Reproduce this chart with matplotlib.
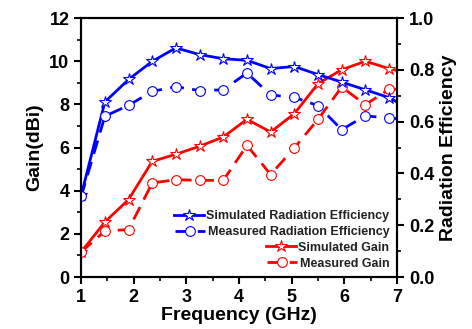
import numpy as np
import matplotlib.pyplot as plt
from matplotlib.ticker import MultipleLocator

plt.rcParams['font.family'] = ['Liberation Sans', 'DejaVu Sans']
plt.rcParams['font.weight'] = 'bold'

freq = [1.0, 1.45, 1.9, 2.35, 2.8, 3.25, 3.7, 4.15, 4.6, 5.05, 5.5, 5.95, 6.4, 6.85, 7.3]
sim_eff = [0.315, 0.676, 0.763, 0.833, 0.885, 0.859, 0.843, 0.837, 0.805, 0.813,
           0.782, 0.753, 0.723, 0.693, 0.642]
meas_eff = [0.311, 0.621, 0.663, 0.717, 0.735, 0.720, 0.723, 0.788, 0.703, 0.694,
            0.662, 0.569, 0.623, 0.613, 0.61]
sim_gain = [1.16, 2.55, 3.59, 5.36, 5.69, 6.06, 6.49, 7.31, 6.72, 7.57,
            8.96, 9.61, 10.0, 9.66, 9.40]
meas_gain = [1.16, 2.13, 2.20, 4.36, 4.51, 4.48, 4.48, 6.10, 4.75, 5.98,
             7.31, 8.80, 7.99, 8.70, 8.70]

fig = plt.figure(figsize=(4.72, 3.29), dpi=100)
ax = fig.add_axes([0.172, 0.158, 0.669, 0.787])
ax2 = ax.twinx()

blue = '#0000ff'
red = '#ff0000'
dash = (0, (5, 3))

l1, = ax2.plot(freq, sim_eff, color=blue, lw=2, marker='*', ms=9, mfc='white',
               mec=blue, mew=0.8, label='Simulated Radiation Efficiency')
l2, = ax2.plot(freq, meas_eff, color=blue, lw=2, ls=dash, marker='o', ms=7,
               mfc='white', mec=blue, mew=0.8, label='Measured Radiation Efficiency')
l3, = ax.plot(freq, sim_gain, color=red, lw=2, marker='*', ms=9, mfc='white',
              mec=red, mew=0.8, label='Simulated Gain')
l4, = ax.plot(freq, meas_gain, color=red, lw=2, ls=dash, marker='o', ms=7,
              mfc='white', mec=red, mew=0.8, label='Measured Gain')

ax.set_xlim(1, 7)
ax.set_ylim(0, 12)
ax2.set_ylim(0, 1.0)
ax.xaxis.set_major_locator(MultipleLocator(1))
ax.xaxis.set_minor_locator(MultipleLocator(0.5))
ax.yaxis.set_major_locator(MultipleLocator(2))
ax.yaxis.set_minor_locator(MultipleLocator(1))
ax2.yaxis.set_major_locator(MultipleLocator(0.2))
ax2.yaxis.set_minor_locator(MultipleLocator(0.1))
ax2.yaxis.set_major_formatter(plt.FormatStrFormatter('%.1f'))

for a in (ax, ax2):
    a.tick_params(which='major', length=5, width=1.5, labelsize=13)
    a.tick_params(which='minor', length=3, width=1.2)
    for s in a.spines.values():
        s.set_linewidth(1.5)

ax.set_xlabel('Frequency (GHz)', fontsize=14, fontweight='bold', labelpad=1)
ax.set_ylabel('Gain(dBi)', fontsize=14, fontweight='bold')
ax2.set_ylabel('Radiation Efficiency', fontsize=14, fontweight='bold')

# right-aligned labels, handles still on the left of each label
leg = ax.legend(handles=[l1, l2, l3, l4], loc='lower right', frameon=False,
                fontsize=9, handlelength=2.4, handletextpad=0.2,
                labelspacing=0.3, borderaxespad=0.2, markerfirst=False)
for col in leg._legend_handle_box.get_children():
    for item in col.get_children():
        item._children.reverse()
for t in leg.get_texts():
    t.set_fontweight('bold')
    t.set_color('#222222')

fig.savefig('out.png', dpi=100)
